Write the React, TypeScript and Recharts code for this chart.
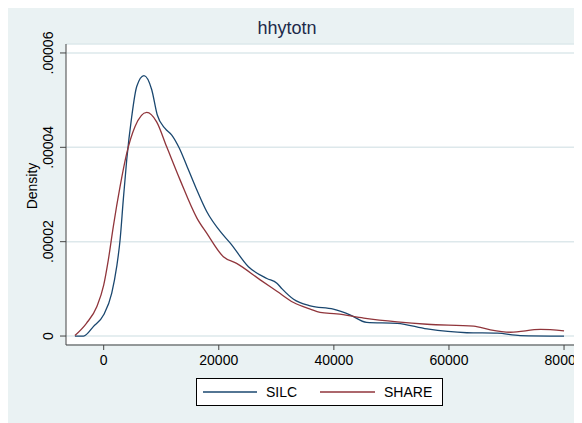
import { CartesianGrid, Line, LineChart, XAxis, YAxis } from "recharts";

// kernel density estimates of household income, by survey
const silcIncome = [
  -5000, -3500, -1800, 0, 1400, 2260, 2850, 3400, 4000, 4870, 5740, 7000,
  8350, 9300, 10660, 11830, 13150, 14400, 16000, 17900, 20500, 22000, 25150,
  28350, 30100, 31000, 33000, 35900, 39900, 42800, 45700, 51000, 56200, 63100,
  68400, 72400, 80000,
];
const silcDensity = [
  0, 0, 0.2e-5, 0.45e-5, 0.91e-5, 1.47e-5, 2.04e-5, 2.88e-5, 3.73e-5, 4.65e-5,
  5.29e-5, 5.52e-5, 5.22e-5, 4.69e-5, 4.4e-5, 4.26e-5, 3.98e-5, 3.62e-5,
  3.15e-5, 2.64e-5, 2.18e-5, 1.97e-5, 1.47e-5, 1.22e-5, 1.12e-5, 1.0e-5,
  0.78e-5, 0.64e-5, 0.57e-5, 0.45e-5, 0.29e-5, 0.27e-5, 0.15e-5, 0.07e-5,
  0.06e-5, 0.01e-5, 0,
];

const shareIncome = [
  -5000, -3000, -1200, 0, 800, 1670, 2850, 4000, 5450, 7480, 9200, 10950,
  13270, 16200, 17900, 20800, 23100, 27200, 30100, 33000, 35900, 37600,
  40500, 45200, 51000, 56200, 64300, 67200, 70700, 75900, 80000,
];
const shareDensity = [
  0.01e-5, 0.27e-5, 0.62e-5, 1.08e-5, 1.61e-5, 2.32e-5, 3.17e-5, 3.87e-5,
  4.44e-5, 4.74e-5, 4.54e-5, 4.01e-5, 3.31e-5, 2.5e-5, 2.18e-5, 1.68e-5,
  1.54e-5, 1.19e-5, 0.95e-5, 0.71e-5, 0.57e-5, 0.5e-5, 0.47e-5, 0.38e-5,
  0.3e-5, 0.25e-5, 0.21e-5, 0.13e-5, 0.08e-5, 0.14e-5, 0.11e-5,
];

const xTicks = [0, 20000, 40000, 60000, 80000];
const yTicks = [0, 2e-5, 4e-5, 6e-5];

const silcData = silcIncome.map((x, i) => ({ x, y: silcDensity[i] }));
const shareData = shareIncome.map((x, i) => ({ x, y: shareDensity[i] }));

const FONT = "'Liberation Sans', Arial, sans-serif";
const BG = "#eaf2f3";
const BLUE = "#1a476f";
const RED = "#90353b";
const AXIS = "#444";

const fmtDensity = (v: number) => (v === 0 ? "0" : v.toFixed(5).replace(/^0/, ""));

const YTick = (props: any) => {
  const { x, y, payload } = props;
  const bx = x - 5;
  return (
    <text
      x={bx}
      y={y}
      transform={`rotate(-90 ${bx} ${y})`}
      textAnchor="middle"
      fontSize={14}
      fontFamily={FONT}
      fill="#000"
    >
      {fmtDensity(payload.value)}
    </text>
  );
};

const DensityLabel = () => (
  <text
    x={29}
    y={182}
    transform="rotate(-90 29 182)"
    textAnchor="middle"
    fontSize={14}
    fontFamily={FONT}
    fill="#000"
  >
    Density
  </text>
);

const App = () => {
  return (
    <div
      style={{
        position: "relative",
        width: 574,
        height: 419,
        marginTop: -4,
        background: BG,
        fontFamily: FONT,
      }}
    >
      <LineChart
        width={574}
        height={419}
        margin={{ top: 40, right: 8, left: 0, bottom: 0 }}
      >
        <CartesianGrid vertical={false} stroke="#dde8eb" strokeWidth={1.5} fill="#fff" />
        <XAxis
          dataKey="x"
          type="number"
          domain={[-6550, 81730]}
          ticks={xTicks}
          allowDataOverflow
          height={78}
          tickSize={5}
          tickMargin={5}
          stroke={AXIS}
          tick={{ fontSize: 14, fill: "#000", fontFamily: FONT }}
          interval={0}
        />
        <YAxis
          type="number"
          domain={[-0.19e-5, 6.19e-5]}
          ticks={yTicks}
          allowDataOverflow
          width={58}
          tickSize={6}
          stroke={AXIS}
          tick={<YTick />}
          interval={0}
          label={<DensityLabel />}
        />
        <Line
          data={silcData}
          dataKey="y"
          type="monotone"
          stroke={BLUE}
          strokeWidth={1.3}
          dot={false}
          isAnimationActive={false}
        />
        <Line
          data={shareData}
          dataKey="y"
          type="monotone"
          stroke={RED}
          strokeWidth={1.3}
          dot={false}
          isAnimationActive={false}
        />
      </LineChart>

      <div
        style={{
          position: "absolute",
          left: 0,
          top: 15,
          width: 558,
          textAlign: "center",
          fontSize: 18,
          lineHeight: "18px",
          color: "#1c2a4a",
        }}
      >
        hhytotn
      </div>

      <svg
        width={247}
        height={28}
        style={{ position: "absolute", left: 188, top: 374 }}
      >
        <rect x={0.5} y={0.5} width={246} height={27} fill="#fff" stroke="#000" />
        <line x1={7} x2={61} y1={14} y2={14} stroke={BLUE} strokeWidth={1.3} />
        <text x={70} y={19} fontSize={14} fontFamily={FONT} fill="#000">
          SILC
        </text>
        <line x1={124} x2={179} y1={14} y2={14} stroke={RED} strokeWidth={1.3} />
        <text x={188} y={19} fontSize={14} fontFamily={FONT} fill="#000">
          SHARE
        </text>
      </svg>
    </div>
  );
};

export default App;
